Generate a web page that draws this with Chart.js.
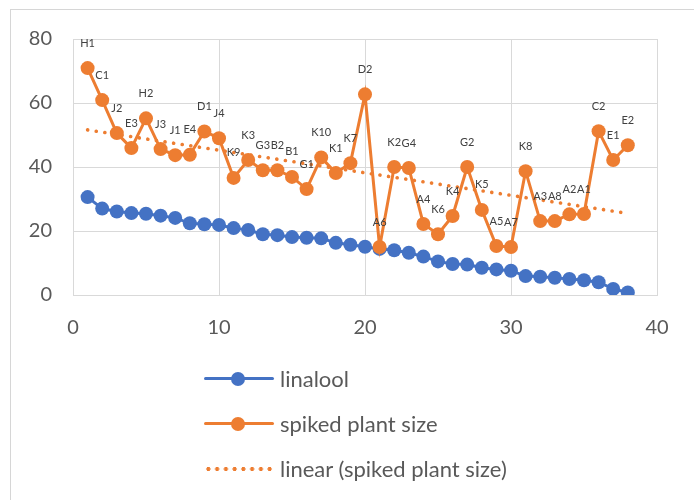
<!DOCTYPE html>
<html>
<head>
<meta charset="UTF-8">
<script src="https://cdn.jsdelivr.net/npm/chart.js@4.4.1/dist/chart.umd.min.js"></script>
<style>
*{margin:0;padding:0;box-sizing:border-box}
body{width:694px;height:500px;background:#fff;overflow:hidden;font-family:Lato,"Liberation Sans",sans-serif}
#wrap{position:relative;width:694px;height:500px}
#frame{position:absolute;left:10px;top:9px;width:700px;height:520px;border:1px solid #D6D6D6}
canvas{position:absolute;left:0;top:0}
#leg{position:absolute;left:204px;top:356px;color:#595959;font-size:22px}
.row{display:flex;align-items:center;height:45px}
.sym{position:relative;width:70px;height:14px;margin-right:6px}
.sym .ln{position:absolute;left:0;right:0;top:5.5px;height:3px;border-radius:2px}
.sym .dot{position:absolute;left:27px;top:0;width:14px;height:14px;border-radius:50%}
.sym .dots{position:absolute;left:0;right:0;top:4px;height:6px;background:radial-gradient(circle,#ED7D31 1.8px,transparent 2.3px) repeat-x;background-size:8.75px 6px}
</style>
</head>
<body>
<div id="wrap">
  <div id="frame"></div>
  <canvas id="c" width="694" height="500"></canvas>
  <div id="leg">
    <div class="row"><div class="sym"><div class="ln" style="background:#4472C4"></div><div class="dot" style="background:#4472C4"></div></div>linalool</div>
    <div class="row"><div class="sym"><div class="ln" style="background:#ED7D31"></div><div class="dot" style="background:#ED7D31"></div></div>spiked plant size</div>
    <div class="row"><div class="sym"><div class="dots"></div></div>linear (spiked plant size)</div>
  </div>
</div>
<script>
// ── data ──
const xs=[1,2,3,4,5,6,7,8,9,10,11,12,13,14,15,16,17,18,19,20,21,22,23,24,25,26,27,28,29,30,31,32,33,34,35,36,37,38];
const pointLabels=['H1','C1','J2','E3','H2','J3','J1','E4','D1','J4','K9','K3','G3','B2','B1','G1','K10','K1','K7','D2','A6','K2','G4','A4','K6','K4','G2','K5','A5','A7','K8','A3','A8','A2','A1','C2','E1','E2'];
const linalool=[30.6,27.0,26.1,25.6,25.4,24.8,24.1,22.4,22.1,21.9,20.9,20.3,19.0,18.7,18.1,17.9,17.7,16.3,15.7,15.1,14.4,14.0,13.2,12.0,10.5,9.7,9.5,8.5,8.0,7.6,5.9,5.7,5.4,5.0,4.6,4.0,1.9,0.8];
const spiked=[70.9,60.9,50.6,45.9,55.2,45.6,43.7,43.8,51.1,49.0,36.6,42.2,39.0,39.0,36.9,33.1,43.0,38.1,41.2,62.7,15.0,40.0,39.7,22.2,19.0,24.7,40.0,26.6,15.3,15.0,38.7,23.1,23.1,25.2,25.3,51.2,42.2,46.8];
const trendX=[1,38];
const trendY=[51.6,25.5];

const BLUE='#4472C4', ORANGE='#ED7D31', GRID='#D9D9D9', TXT='#595959';
const FONT='Lato, "Liberation Sans", sans-serif';
const pts=(x,y)=>x.map((v,i)=>({x:v,y:y[i]}));

const labelPlugin={
  id:'ptLabels',
  afterDatasetsDraw(chart){
    const meta=chart.getDatasetMeta(1);
    const ctx=chart.ctx;
    ctx.save();
    ctx.font='11px '+FONT;
    ctx.fillStyle='#404040';
    ctx.textAlign='center';
    ctx.textBaseline='middle';
    meta.data.forEach((p,i)=>ctx.fillText(pointLabels[i],p.x,p.y-25));
    ctx.restore();
  }
};

new Chart(document.getElementById('c'),{
  type:'line',
  data:{datasets:[
    {label:'linalool',data:pts(xs,linalool),borderColor:BLUE,backgroundColor:BLUE,borderWidth:3,pointRadius:7,pointBorderWidth:0,pointBackgroundColor:BLUE,order:2},
    {label:'spiked plant size',data:pts(xs,spiked),borderColor:ORANGE,backgroundColor:ORANGE,borderWidth:3,pointRadius:7,pointBorderWidth:0,pointBackgroundColor:ORANGE,order:0},
    {label:'linear (spiked plant size)',data:pts(trendX,trendY),borderColor:ORANGE,borderWidth:3.6,borderDash:[0.1,8.6],borderCapStyle:'round',pointRadius:0,order:1}
  ]},
  options:{
    responsive:false,animation:false,
    layout:{padding:{left:0,top:39,right:37,bottom:165}},
    plugins:{legend:{display:false},tooltip:{enabled:false}},
    scales:{
      x:{type:'linear',min:0,max:40,
         ticks:{stepSize:10,color:TXT,font:{size:20,family:FONT},padding:21},
         grid:{color:GRID,drawTicks:false},border:{color:GRID},
         afterFit:s=>{s.height=40;}},
      y:{min:0,max:80,
         ticks:{stepSize:20,color:TXT,font:{size:20,family:FONT},padding:21},
         grid:{color:GRID,drawTicks:false},border:{color:GRID},
         afterFit:s=>{s.width=73;}}
    }
  },
  plugins:[labelPlugin]
});
</script>
</body>
</html>
